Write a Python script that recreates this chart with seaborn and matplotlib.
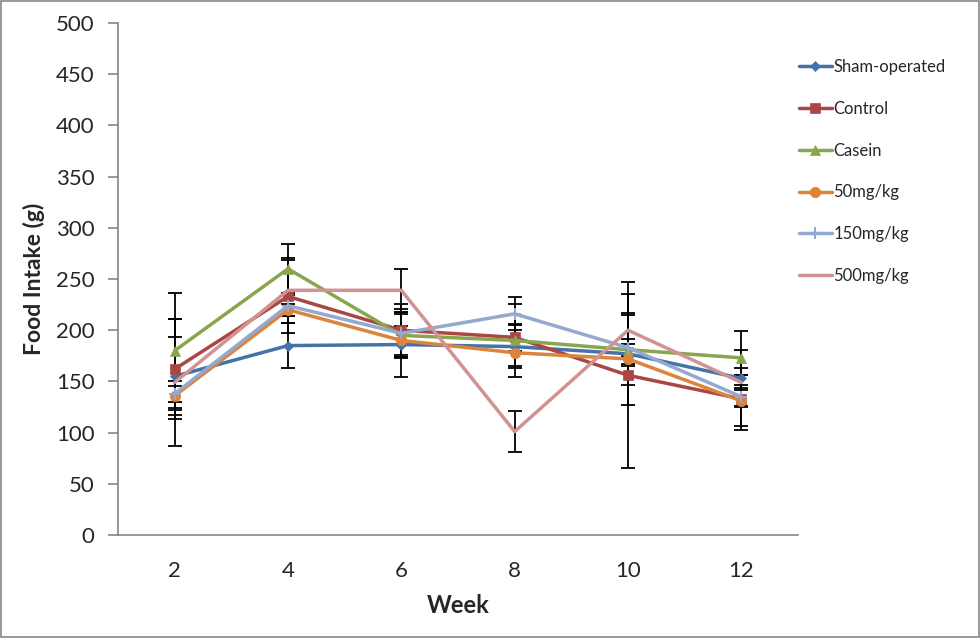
import matplotlib
matplotlib.use("Agg")
import matplotlib.pyplot as plt
import matplotlib.patches as patches
import seaborn as sns
import pandas as pd

weeks = ["2", "4", "6", "8", "10", "12"]
groups = ["Sham-operated", "Control", "Casein", "50mg/kg", "150mg/kg", "500mg/kg"]

sham = [155, 185, 186, 184, 177, 153]
control = [162, 233, 200, 193, 156, 133]
casein = [180, 260, 195, 190, 181, 173]
low_dose = [136, 220, 190, 178, 172, 131]
mid_dose = [138, 224, 197, 216, 183, 135]
high_dose = [149, 239, 239, 101, 200, 149]

sham_err = [38, 22, 32, 21, 10, 28]
control_err = [49, 36, 26, 13, 91, 30]
casein_err = [56, 24, 21, 36, 34, 26]
low_dose_err = [14, 6, 14, 13, 45, 25]
mid_dose_err = [8, 10, 24, 16, 8, 9]
high_dose_err = [62, 32, 21, 20, 35, 7]

means = [sham, control, casein, low_dose, mid_dose, high_dose]
errors = [sham_err, control_err, casein_err, low_dose_err, mid_dose_err, high_dose_err]
colors = ["#4572A7", "#AA4643", "#89A54E", "#DB843D", "#93A9CF", "#D19392"]
markers = ["D", "s", "^", "o", "+", None]
marker_sizes = [5.5, 7, 7.5, 7.5, 9, 0]

sns.set_style("white")
plt.rcParams["font.family"] = ["Lato", "DejaVu Sans"]

fig = plt.figure(figsize=(9.8, 6.38), dpi=100)
ax = fig.add_axes([0.1204, 0.1614, 0.6939, 0.8025])

pos = list(range(len(weeks)))
for name, m, e, c, mk, ms in zip(groups, means, errors, colors, markers, marker_sizes):
    ax.errorbar(pos, m, yerr=e, fmt="none", ecolor="black", elinewidth=1.3,
                capsize=5, capthick=1.3, zorder=2)
    df = pd.DataFrame({"pos": pos, "val": m})
    sns.lineplot(data=df, x="pos", y="val", ax=ax, color=c, linewidth=2.5,
                 marker=mk, markersize=ms, markeredgecolor=c,
                 markeredgewidth=1.5 if mk == "+" else 0.5,
                 label=name, zorder=3)

ax.set_xlim(-0.5, 5.5)
ax.set_ylim(0, 500)
ax.set_yticks(range(0, 501, 50))
ax.set_xticks(pos)
ax.set_xticklabels(weeks)
ax.set_xticks([p - 0.5 for p in range(len(weeks) + 1)], minor=True)
ax.tick_params(axis="x", which="major", length=0, pad=19, labelsize=16)
ax.tick_params(axis="x", which="minor", length=7, width=1.2, color="#868686",
               direction="out")
ax.tick_params(axis="y", length=7, width=1.2, color="#868686", direction="out",
               labelsize=16, pad=10, left=True)

for side in ["top", "right"]:
    ax.spines[side].set_visible(False)
for side in ["left", "bottom"]:
    ax.spines[side].set_color("#868686")
    ax.spines[side].set_linewidth(1.2)

ax.set_xlabel("Week", fontsize=17, fontweight="bold", labelpad=9)
ax.set_ylabel("Food Intake (g)", fontsize=16.5, fontweight="bold", labelpad=8)

handles, labels = ax.get_legend_handles_labels()
ax.get_legend().remove()
fig.legend(handles, labels, loc="upper left", bbox_to_anchor=(0.808, 0.918),
           frameon=False, fontsize=12, handlelength=2.0, handletextpad=0.1,
           labelspacing=1.55, borderaxespad=0)

fig.patches.append(patches.Rectangle((0.001, 0.002), 0.998, 0.996,
                                     transform=fig.transFigure, fill=False,
                                     edgecolor="#868686", linewidth=1.2))

fig.savefig("out.png", dpi=100)
